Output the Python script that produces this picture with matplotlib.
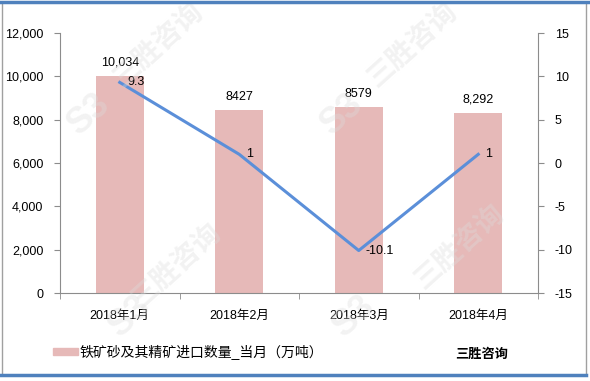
import matplotlib
matplotlib.use('Agg')
import matplotlib.pyplot as plt
import numpy as np
from matplotlib.patches import Rectangle
from matplotlib.lines import Line2D

plt.rcParams['font.family'] = ['Liberation Sans', 'Noto Sans CJK SC']
plt.rcParams['axes.unicode_minus'] = False

months = ['2018年1月', '2018年2月', '2018年3月', '2018年4月']
volume = [10034, 8427, 8579, 8292]
volume_labels = ['10,034', '8427', '8579', '8,292']
growth = [9.3, 1, -10.1, 1]
growth_labels = ['9.3', '1', '-10.1', '1']

bar_color = '#e6b9b8'
line_color = '#5b8fd9'
axis_color = '#8c8c8c'

fig = plt.figure(figsize=(5.9, 3.81), dpi=100)
ax = fig.add_axes([60/590, 1 - 293/381, 478/590, 260/381])
ax2 = ax.twinx()

x = np.arange(len(months))
ax.bar(x, volume, width=0.4, color=bar_color, zorder=2)
for xi, v, lab in zip(x, volume, volume_labels):
    ax.text(xi, v + 350, lab, ha='center', va='bottom', fontsize=9)

ax2.plot(x, growth, color=line_color, linewidth=2.2, zorder=3)
for xi, g, lab in zip(x, growth, growth_labels):
    ax2.text(xi + 0.06, g, lab, ha='left', va='center', fontsize=9)

ax.set_xlim(-0.5, 3.5)
ax.set_ylim(0, 12000)
ax.set_yticks(range(0, 12001, 2000))
ax.set_yticklabels([f'{v:,}' for v in range(0, 12001, 2000)])
ax2.set_ylim(-15, 15)
ax2.set_yticks(range(-15, 16, 5))

ax.set_xticks(x)
ax.set_xticklabels(months)
ax.set_xticks(np.arange(-0.5, 4, 1), minor=True)
ax.tick_params(axis='x', which='major', length=0, pad=12, labelsize=9)
ax.tick_params(axis='x', which='minor', length=4, color=axis_color, direction='out')
ax.tick_params(axis='y', length=4, color=axis_color, labelsize=9, pad=8)
ax2.tick_params(axis='y', length=4, color=axis_color, labelsize=9, pad=8)

for a in (ax, ax2):
    for side in ('top', 'right', 'left', 'bottom'):
        a.spines[side].set_visible(False)
ax.spines['left'].set_visible(True)
ax.spines['left'].set_color(axis_color)
ax.spines['bottom'].set_visible(True)
ax.spines['bottom'].set_color(axis_color)
ax2.spines['right'].set_visible(True)
ax2.spines['right'].set_color(axis_color)

# watermarks
for wx, wy in [(0.27, 0.88), (0.70, 0.88), (0.30, 0.30), (0.78, 0.35)]:
    fig.text(wx, wy, '三胜咨询', fontsize=20, color='#dcdcdc', alpha=0.35,
             rotation=42, ha='center', va='center', fontweight='bold', zorder=0)
for wx, wy in [(0.15, 0.70), (0.58, 0.70), (0.22, 0.17), (0.60, 0.17)]:
    fig.text(wx, wy, 'S3', fontsize=26, color='#dcdcdc', alpha=0.35,
             rotation=42, ha='center', va='center', fontweight='bold', zorder=0)

# legend and brand
fig.patches.append(Rectangle((53/590, 1 - 355/381), 25/590, 7/381,
                             transform=fig.transFigure, color=bar_color))
fig.text(80/590, 1 - 353/381, '铁矿砂及其精矿进口数量_当月（万吨）',
         fontsize=10, va='center', ha='left')
fig.text(455/590, 1 - 355/381, '三胜咨询', fontsize=9.5, fontweight='bold',
         va='center', ha='left')

# frame
fig.patches.append(Rectangle((2/590, 6/381), 584/590, 373/381, transform=fig.transFigure,
                             fill=False, edgecolor='#a0a0a0', linewidth=1))
fig.lines.append(Line2D([0, 1], [1 - 2/381, 1 - 2/381], transform=fig.transFigure,
                        color='#4f81bd', linewidth=2.5))
fig.lines.append(Line2D([0, 586/590], [1 - 375/381, 1 - 375/381], transform=fig.transFigure,
                        color='#4f81bd', linewidth=2.5))

fig.savefig('out.png', dpi=100)
